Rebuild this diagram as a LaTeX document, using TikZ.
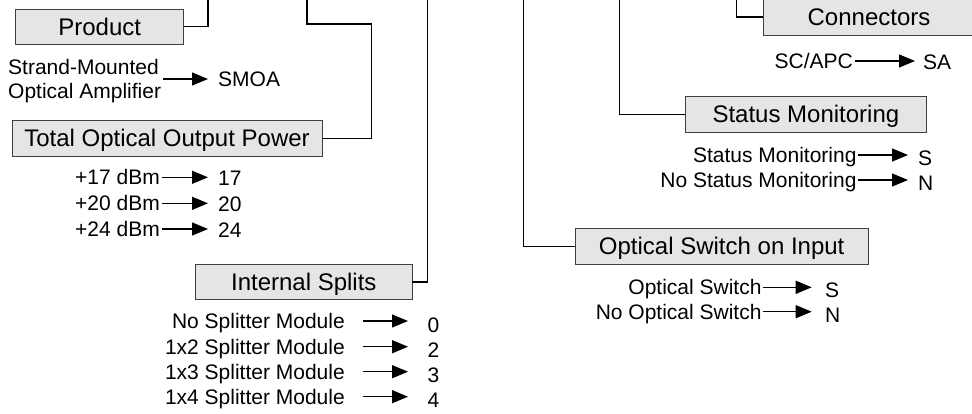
\documentclass[tikz,border=0pt]{standalone}
\usepackage{fontspec}
\setmainfont{Liberation Sans}
\usetikzlibrary{arrows.meta}
\begin{document}
\begin{tikzpicture}[x=1pt,y=-1pt,
  box/.style={draw=black!75, fill=black!10, line width=0.9pt, minimum height=35.5pt, inner sep=0pt,
    font=\fontsize{24}{28}\selectfont, text height=17pt, text depth=0pt},
  lab/.style={inner sep=0pt, font=\fontsize{21}{24}\selectfont, text height=15pt, text depth=0pt},
  link/.style={line width=1.4pt},
  arr/.style={line width=1.3pt, -{Triangle[length=16pt,width=13pt]}},
]
\useasboundingbox (0,0) rectangle (972,413);

% boxes
\node[box, minimum width=168pt]   (prod)   at (99.7,26.7)  {Product};
\node[box, minimum width=310pt]   (power)  at (167,138.3)  {Total Optical Output Power};
\node[box, minimum width=216.3pt] (splits) at (303.8,282)  {Internal Splits};
\node[box, minimum width=212pt, minimum height=37.5pt] (conn) at (869,17) {Connectors};
\node[box, minimum width=240.3pt] (status) at (805.9,114.2) {Status Monitoring};
\node[box, minimum width=293.3pt] (optsw)  at (721.7,246.2) {Optical Switch on Input};

% tree lines
\coordinate (t1) at (208,-2);
\coordinate (t2) at (307,-2);
\coordinate (t3) at (427.7,-2);
\coordinate (t4) at (523.3,-2);
\coordinate (t5) at (619.3,-2);
\coordinate (t6) at (736.7,-2);
\draw[link] (prod.east) -| (t1);
\draw[link] (t2) |- (371.7,24) |- (power.east);
\draw[link] (t3) |- (splits.east);
\draw[link] (t4) |- (optsw.west);
\draw[link] (t5) |- (status.west);
\draw[link] (t6) |- (conn.west);

% product
\node[lab, anchor=west] (smA) at (8,66.7) {Strand-Mounted};
\node[lab, anchor=west] (smB) at (8,90.7) {Optical Amplifier};
\node[lab, anchor=west] (smoa) at (218,79) {SMOA};
\coordinate (smS) at (163,79);
\draw[arr] (smS) -- (smoa.west -| 208,0);

% power
\foreach \y/\t [count=\i] in {177.3/17,203.3/20,229/24}{
  \node[lab, anchor=east] (pl\i) at (160,\y) {+\t\ dBm};
  \node[lab, anchor=west] (pv\i) at (218,\y+0.5) {\t};
  \draw[arr] ([xshift=2pt]pl\i.east) -- (208,\y);
}

% splits
\foreach \y/\t/\v [count=\i] in {321/No/0,346.7/1x2/2,371.7/1x3/3,396.7/1x4/4}{
  \node[lab, anchor=east] (sl\i) at (345,\y) {\t\ Splitter Module};
  \node[lab, anchor=west] (sv\i) at (427.5,\y+3.5) {\v};
  \draw[arr] ([xshift=18pt]sl\i.east) -- (408,\y);
}

% connectors
\node[lab, anchor=east] (cl) at (853,61) {SC/APC};
\node[lab, anchor=west] (cv) at (923,62) {SA};
\draw[arr] ([xshift=2pt]cl.east) -- (915,61);

% status
\node[lab, anchor=east] (stl1) at (856.7,155) {Status Monitoring};
\node[lab, anchor=east] (stl2) at (856.7,180) {No Status Monitoring};
\node[lab, anchor=west] (stv1) at (918,158) {S};
\node[lab, anchor=west] (stv2) at (918,183) {N};
\draw[arr] ([xshift=1pt]stl1.east) -- (908,155);
\draw[arr] ([xshift=1pt]stl2.east) -- (908,180);

% optical switch
\node[lab, anchor=east] (ol1) at (761.7,287.3) {Optical Switch};
\node[lab, anchor=east] (ol2) at (761.7,311.7) {No Optical Switch};
\node[lab, anchor=west] (ov1) at (825,290) {S};
\node[lab, anchor=west] (ov2) at (825,315) {N};
\draw[arr] ([xshift=1pt]ol1.east) -- (811.7,287.3);
\draw[arr] ([xshift=1pt]ol2.east) -- (811.7,311.7);
\end{tikzpicture}
\end{document}
